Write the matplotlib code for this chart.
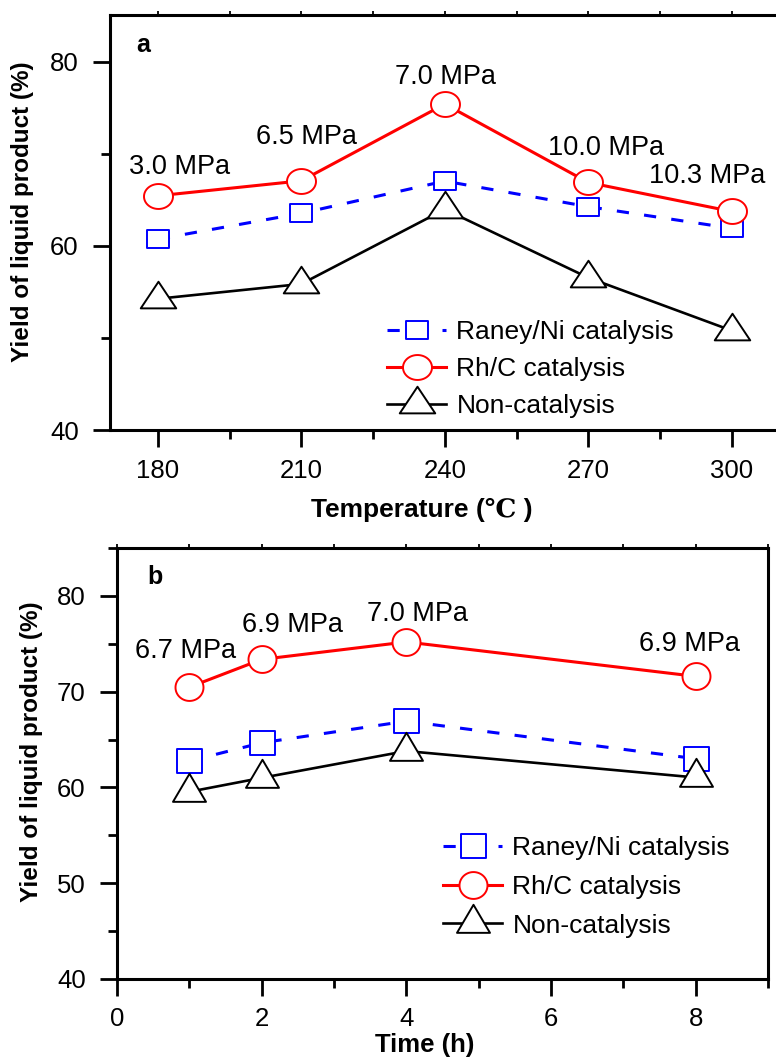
import numpy as np
import matplotlib
matplotlib.use('Agg')
import matplotlib.pyplot as plt
from matplotlib.path import Path
from matplotlib.ticker import MultipleLocator

# ---------------- data ----------------
temperature = [180, 210, 240, 270, 300]
raney_a = [60.74, 63.55, 67.05, 64.27, 61.92]
rhc_a = [65.45, 67.08, 75.42, 66.9, 63.75]
non_a = [54.26, 55.87, 63.98, 56.55, 50.8]
press_a = ['3.0 MPa', '6.5 MPa', '7.0 MPa', '10.0 MPa', '10.3 MPa']

time_h = [1, 2, 4, 8]
raney_b = [62.76, 64.66, 66.92, 63.0]
rhc_b = [70.47, 73.37, 75.19, 71.6]
non_b = [59.55, 61.0, 63.8, 61.04]
press_b = ['6.7 MPa', '6.9 MPa', '7.0 MPa', '6.9 MPa']

labels = ['Raney/Ni catalysis', 'Rh/C catalysis', 'Non-catalysis']

plt.rcParams['font.family'] = ['Liberation Sans', 'DejaVu Sans']

W, H = 776, 1057
fig = plt.figure(figsize=(W / 100, H / 100), dpi=100)


def fx(px):
    return px / W


def fy(py):
    return 1 - py / H


def ellipse(ry):
    t = np.linspace(0, 2 * np.pi, 60)
    v = np.column_stack([np.cos(t), ry * np.sin(t)])
    return Path(v, closed=True)


def rect(ry):
    v = [(-1, -ry), (1, -ry), (1, ry), (-1, ry), (-1, -ry)]
    return Path(v, closed=True)


def tri(h):
    v = [(-1, -h / 3), (1, -h / 3), (0, 2 * h / 3), (-1, -h / 3)]
    return Path(v, closed=True)


def msize(path, width_px):
    r = np.max(np.abs(path.vertices))
    return width_px * 0.72 * r


def setup_axes(ax, xlim, xmaj, xmin, ylim, ymaj, ymin, xpad):
    ax.set_xlim(*xlim)
    ax.set_ylim(*ylim)
    ax.xaxis.set_major_locator(MultipleLocator(xmaj))
    ax.xaxis.set_minor_locator(MultipleLocator(xmin))
    ax.yaxis.set_major_locator(MultipleLocator(ymaj))
    ax.yaxis.set_minor_locator(MultipleLocator(ymin))
    for s in ax.spines.values():
        s.set_linewidth(2.2)
    ax.tick_params(which='major', direction='out', length=12.5, width=2.0,
                   labelsize=18.5)
    ax.tick_params(which='minor', direction='out', length=6.5, width=2.0)
    ax.tick_params(axis='y', which='major', pad=10)
    ax.tick_params(axis='x', which='major', pad=xpad)
    sec = ax.secondary_xaxis('top')
    sec.xaxis.set_major_locator(MultipleLocator(xmin))
    sec.tick_params(direction='out', length=3, width=1.3, labeltop=False)
    sec.spines['top'].set_visible(False)


def draw(ax, x, raney, rhc, non, circ, sq, tr, wc, ws, wt):
    l1, = ax.plot(x, raney, color='#0000ff', lw=2.2, dashes=(4, 5),
                  marker=sq, ms=msize(sq, ws), mfc='white', mec='#0000ff',
                  mew=1.4, zorder=3)
    l2, = ax.plot(x, rhc, color='#ff0000', lw=2.2, marker=circ,
                  ms=msize(circ, wc), mfc='white', mec='#ff0000', mew=1.4,
                  zorder=4)
    l3, = ax.plot(x, non, color='black', lw=1.9, marker=tr,
                  ms=msize(tr, wt), mfc='white', mec='black', mew=1.4,
                  zorder=3)
    return [l1, l2, l3]


# ---------------- panel a ----------------
axa = fig.add_axes([fx(110), fy(430), (779.6 - 110) / W, (430 - 15) / H])
setup_axes(axa, (170, 310), 30, 15, (40, 85.1), 20, 10, 8.5)
ha = draw(axa, temperature, raney_a, rhc_a, non_a,
          ellipse(0.86), rect(0.86), tri(1.5), 29, 22, 35.5)

offs_a = [(22, 29), (5, 44), (1, 27), (18, 34), (-24.5, 35)]
for xv, yv, lab, (dx, dy) in zip(temperature, rhc_a, press_a, offs_a):
    axa.annotate(lab, xy=(xv, yv), xytext=(dx * 0.72, dy * 0.72),
                 textcoords='offset points', ha='center', va='center',
                 fontsize=19.5)
axa.text(0.05, 0.928, 'a', transform=axa.transAxes, fontsize=18,
         fontweight='bold', ha='center', va='center')
axa.legend(ha, labels, loc='upper left', bbox_to_anchor=(fx(387), fy(320)),
           bbox_transform=fig.transFigure, frameon=False, fontsize=19,
           handlelength=2.25, handletextpad=0.38, labelspacing=0.5,
           borderpad=0, borderaxespad=0, numpoints=1)

fig.text(fx(23), fy(212), 'Yield of liquid product (%)', rotation=90,
         ha='center', va='center', fontsize=17.5, fontweight='bold')
fig.text(fx(422), fy(510), 'Temperature (\u2103 )', ha='center', va='center',
         fontsize=19, fontweight='bold',
         family=['Liberation Sans', 'DejaVu Serif'])

# ---------------- panel b ----------------
axb = fig.add_axes([fx(117), fy(979), (768 - 117) / W, (979 - 548) / H])
setup_axes(axb, (0, 9), 2, 1, (40, 85), 10, 5, 7.5)
hb = draw(axb, time_h, raney_b, rhc_b, non_b,
          ellipse(0.96), rect(0.96), tri(1.7), 28, 25, 33)

offs_b = [(-4, 36), (31, 34), (11, 28), (-6, 32)]
for xv, yv, lab, (dx, dy) in zip(time_h, rhc_b, press_b, offs_b):
    axb.annotate(lab, xy=(xv, yv), xytext=(dx * 0.72, dy * 0.72),
                 textcoords='offset points', ha='center', va='center',
                 fontsize=19.5)
axb.text(0.0576, 0.933, 'b', transform=axb.transAxes, fontsize=18,
         fontweight='bold', ha='center', va='center')
axb.legend(hb, labels, loc='upper left', bbox_to_anchor=(fx(443), fy(836)),
           bbox_transform=fig.transFigure, frameon=False, fontsize=19,
           handlelength=2.25, handletextpad=0.38, labelspacing=0.56,
           borderpad=0, borderaxespad=0, numpoints=1)

fig.text(fx(32), fy(752), 'Yield of liquid product (%)', rotation=90,
         ha='center', va='center', fontsize=17.5, fontweight='bold')
fig.text(fx(425), fy(1045), 'Time (h)', ha='center', va='center',
         fontsize=18.5, fontweight='bold')

fig.savefig('out.png', dpi=100)
